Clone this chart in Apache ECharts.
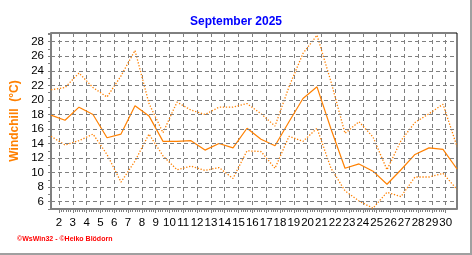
<!DOCTYPE html>
<html>
<head>
<meta charset="utf-8">
<script src="https://cdn.jsdelivr.net/npm/echarts@6/dist/echarts.min.js"></script>
<style>html,body{margin:0;padding:0;background:#fff;}#c{width:472px;height:255px;}</style>
</head>
<body>
<div id="c"></div>
<script>
var days = [1,2,3,4,5,6,7,8,9,10,11,12,13,14,15,16,17,18,19,20,21,22,23,24,25,26,27,28,29,30];
var maxVals = [21.4,21.7,23.7,21.7,20.4,23.3,26.8,19.5,15.5,19.7,18.6,18.0,19.0,19.0,19.5,18.1,16.4,21.8,26.4,28.9,22.5,15.4,17.0,14.9,10.4,14.4,16.9,18.1,19.4,13.6];
var meanVals = [17.9,17.2,19.0,18.0,14.8,15.3,19.2,17.8,14.3,14.3,14.4,13.1,14.0,13.4,16.1,14.6,13.7,17.0,20.2,21.8,16.0,10.6,11.2,10.2,8.4,10.4,12.5,13.4,13.2,10.5];
var minVals = [15.0,13.8,14.4,15.3,12.5,8.7,11.6,15.3,12.3,10.4,10.9,10.3,10.7,9.2,13.0,12.9,10.6,15.0,14.3,16.1,10.6,7.5,6.1,5.1,7.3,6.7,9.4,9.4,9.9,7.7];
var yTicks = [6,8,10,12,14,16,18,20,22,24,26,28];
var xTickLabels = [2,3,4,5,6,7,8,9,10,11,12,13,14,15,16,17,18,19,20,21,22,23,24,25,26,27,28,29,30];
var titleText = 'September 2025';
var yName = 'Windchill  (°C)';
var footer = '\u00A9WsWin32 - \u00A9Heiko Blödorn';

function pairs(vals){ return days.map(function(d,i){ return [d, vals[i]]; }); }
var orange = '#ff8000';
var grey = '#808080';
var chart = echarts.init(document.getElementById('c'), null, {renderer:'canvas'});
chart.setOption({
  animation:false,
  backgroundColor:'#fff',
  title:{text:titleText,left:'center',top:11,textStyle:{color:'#0000ff',fontSize:12,fontWeight:'bold',fontFamily:'Liberation Sans'}},
  grid:[
    {left:51,right:15,top:33,bottom:46,show:true,borderColor:'#000',borderWidth:1,backgroundColor:'transparent'},
    {left:59,right:26.3,top:33,bottom:46,show:false}
  ],
  xAxis:[
    {gridIndex:0,type:'value',min:1,max:30,axisLine:{show:true,lineStyle:{color:grey,width:2}},axisTick:{show:false},axisLabel:{show:false},splitLine:{show:false}},
    {gridIndex:1,type:'value',min:xTickLabels[0],max:xTickLabels[xTickLabels.length-1],interval:1,
      axisLine:{show:false},
      axisTick:{show:true,length:4,lineStyle:{color:grey}},
      minorTick:{show:true,splitNumber:6,length:3,lineStyle:{color:grey}},
      axisLabel:{margin:8,color:'#000',fontSize:11.5,fontFamily:'Liberation Sans',hideOverlap:false,
        formatter:function(v){ return xTickLabels.indexOf(v)>=0 ? String(v) : ''; }},
      splitLine:{show:true,lineStyle:{color:grey,type:[4,3],width:1}}}
  ],
  yAxis:[
    {gridIndex:0,type:'value',min:5,max:29.2,interval:1,
      name:yName,nameLocation:'middle',nameRotate:90,nameGap:28,
      nameTextStyle:{color:orange,fontSize:12,fontWeight:'bold',fontFamily:'Liberation Sans'},
      axisLine:{show:true,lineStyle:{color:grey,width:2}},
      axisTick:{show:true,length:3,lineStyle:{color:grey}},
      axisLabel:{margin:7,color:'#000',fontSize:11.5,fontFamily:'Liberation Sans',
        formatter:function(v){ return yTicks.indexOf(v)>=0 ? String(v) : ''; }},
      splitLine:{show:false}},
    {gridIndex:1,type:'value',min:5,max:29.2,show:false,splitLine:{show:false}}
  ],
  series:[
    {type:'line',xAxisIndex:0,yAxisIndex:0,data:[],z:1,silent:true,
      markLine:{silent:true,symbol:'none',animation:false,label:{show:false},
        lineStyle:{color:grey,type:[4,3],width:1},
        data:yTicks.map(function(v){ return {yAxis:v}; })}},
    {type:'line',xAxisIndex:0,yAxisIndex:0,data:pairs(maxVals),showSymbol:false,z:3,
      lineStyle:{color:orange,width:1.3,type:[1.3,1.7]}},
    {type:'line',xAxisIndex:0,yAxisIndex:0,data:pairs(meanVals),showSymbol:false,z:3,
      lineStyle:{color:orange,width:1.2}},
    {type:'line',xAxisIndex:0,yAxisIndex:0,data:pairs(minVals),showSymbol:false,z:3,
      lineStyle:{color:orange,width:1.3,type:[1.3,1.7]}}
  ],
  graphic:[
    {type:'text',left:17,top:236,style:{text:footer,fill:'#ff0000',font:'bold 7px "Liberation Sans"'}},
    {type:'rect',shape:{x:470,y:0,width:2,height:255},style:{fill:'#a0a0a0'}},
    {type:'rect',shape:{x:0,y:253,width:472,height:2},style:{fill:'#a0a0a0'}}
  ]
});
</script>
</body>
</html>
